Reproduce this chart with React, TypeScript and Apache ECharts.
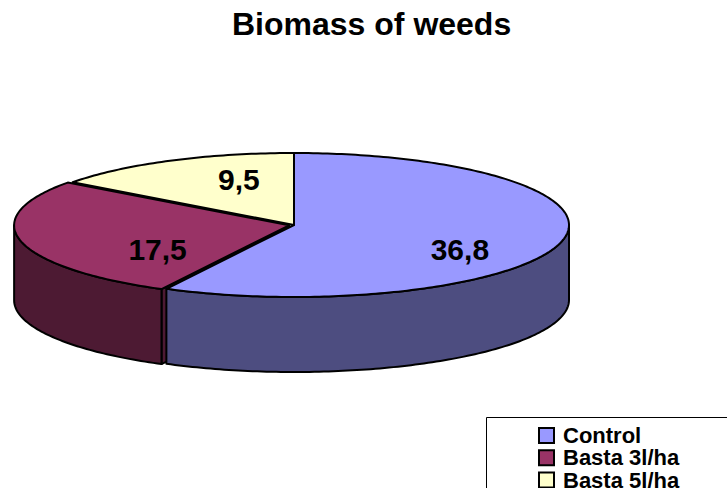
import React, { useEffect, useRef } from "react";
import * as echarts from "echarts";

const titleText = "Biomass of weeds";
const categories = ["Control", "Basta 3l/ha", "Basta 5l/ha"];
const values = [36.8, 17.5, 9.5];

const topColors = ["#9999FF", "#993366", "#FFFFCC"];
const sideColors = ["#4D4D80", "#4D1A33", "#80806A"];
const explode = [0, 5, 0];

const CX = 294;
const CY = 225;
const RX = 275;
const RY = 72;
const DEPTH = 75;
const FONT = "'Liberation Sans', Arial, Helvetica, sans-serif";

function pt(theta: number, ox: number, oy: number, dz: number): number[] {
  const r = (theta * Math.PI) / 180;
  return [CX + ox + RX * Math.sin(r), CY + oy - RY * Math.cos(r) + dz];
}

function arcPts(a: number, b: number, ox: number, oy: number, dz: number): number[][] {
  const n = Math.max(2, Math.ceil(Math.abs(b - a)));
  const pts: number[][] = [];
  for (let i = 0; i <= n; i++) pts.push(pt(a + ((b - a) * i) / n, ox, oy, dz));
  return pts;
}

function makeRenderItem(idx: number) {
  return (params: any, api: any) => {
    const total = values.reduce((s, v) => s + v, 0);
    const before = values.slice(0, idx).reduce((s, v) => s + v, 0);
    const v = api.value(0) as number;
    const start = (before / total) * 360;
    const end = start + (v / total) * 360;
    const mid = (start + end) / 2;
    const mr = (mid * Math.PI) / 180;
    const ox = explode[idx] * Math.sin(mr);
    const oy = -explode[idx] * (RY / RX) * Math.cos(mr);
    const stroke = { stroke: "#000", lineWidth: 2, lineJoin: "round" };
    const children: any[] = [];

    if (explode[idx] > 0) {
      const c = [CX + ox, CY + oy];
      const sr = ((start - 90) * Math.PI) / 180;
      if (-Math.cos(sr) > 0) {
        const e = pt(start, ox, oy, 0);
        children.push({
          type: "polygon",
          z2: 1,
          shape: { points: [c, e, [e[0], e[1] + DEPTH], [c[0], c[1] + DEPTH]] },
          style: { fill: sideColors[idx], ...stroke },
        });
      }
      const er = ((end + 90) * Math.PI) / 180;
      if (-Math.cos(er) > 0) {
        const e = pt(end, ox, oy, 0);
        children.push({
          type: "polygon",
          z2: 1,
          shape: { points: [c, e, [e[0], e[1] + DEPTH], [c[0], c[1] + DEPTH]] },
          style: { fill: sideColors[idx], ...stroke },
        });
      }
    }

    const s0 = Math.max(start, 90);
    const s1 = Math.min(end, 270);
    if (s1 > s0) {
      const topArc = arcPts(s0, s1, ox, oy, 0);
      const botArc = arcPts(s1, s0, ox, oy, DEPTH);
      children.push({
        type: "polygon",
        z2: 2,
        shape: { points: topArc.concat(botArc) },
        style: { fill: sideColors[idx], ...stroke },
      });
    }

    const topPts = [[CX + ox, CY + oy]].concat(arcPts(start, end, ox, oy, 0));
    children.push({
      type: "polygon",
      z2: 3,
      shape: { points: topPts },
      style: { fill: topColors[idx], ...stroke },
    });

    children.push({
      type: "text",
      z2: 4,
      x: CX + 15 + 0.565 * RX * Math.sin(mr),
      y: CY + 10 - 0.87 * RY * Math.cos(mr),
      style: {
        text: String(v).replace(".", ","),
        fill: "#000",
        font: `bold 30px ${FONT}`,
        align: "center",
        verticalAlign: "middle",
      },
    });

    return { type: "group", children };
  };
}

export default function App() {
  const ref = useRef<HTMLDivElement>(null);
  useEffect(() => {
    if (!ref.current) return;
    const chart = echarts.init(ref.current, null, { renderer: "svg" });
    chart.setOption({
      animation: false,
      backgroundColor: "#fff",
      title: {
        text: titleText,
        left: 227,
        top: 3,
        textStyle: { fontFamily: FONT, fontWeight: "bold", fontSize: 32, color: "#000" },
      },
      graphic: [
        {
          type: "rect",
          silent: true,
          shape: { x: 486.5, y: 417.5, width: 300, height: 100 },
          style: { fill: "#fff", stroke: "#000", lineWidth: 1 },
          z: -1,
        },
      ],
      legend: {
        orient: "vertical",
        left: 538,
        top: 424.5,
        height: 100,
        padding: 0,
        itemWidth: 15,
        itemHeight: 15,
        itemGap: 0.3,
        icon: "rect",
        selectedMode: false,
        itemStyle: { borderColor: "#000", borderWidth: 2 },
        textStyle: {
          fontFamily: FONT,
          fontWeight: "bold",
          fontSize: 22,
          color: "#000",
          lineHeight: 20,
          padding: [0, 0, 0, 4],
        },
        data: categories,
      },
      series: categories.map((name, i) => ({
        type: "custom",
        name,
        coordinateSystem: "none",
        itemStyle: { color: topColors[i] },
        data: [[values[i]]],
        renderItem: makeRenderItem(i),
      })),
    });
    return () => chart.dispose();
  }, []);
  return (
    <div
      ref={ref}
      style={{ position: "fixed", left: 0, top: 0, width: 727, height: 488 }}
    />
  );
}
